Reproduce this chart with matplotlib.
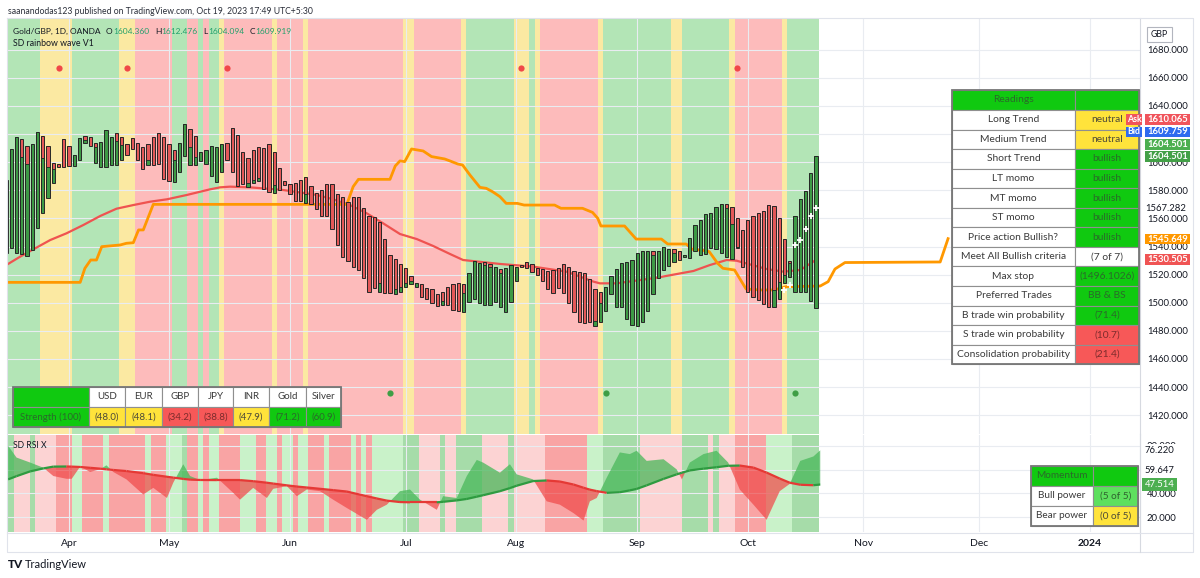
import numpy as np
import pandas as pd
import matplotlib
matplotlib.use("Agg")
from matplotlib import pyplot as plt
from matplotlib.collections import LineCollection
from matplotlib.patches import Rectangle

plt.rcParams['font.family'] = ['Lato', 'DejaVu Sans']

# trading calendar (daily OANDA bars, Good Friday missing)
first_day = "2023-03-16"
skipped_days = ["2023-04-07"]

# header
author_line = "saanandodas123 published on TradingView.com, Oct 19, 2023 17:49 UTC+5:30"
symbol_line = "Gold/GBP, 1D, OANDA"
ohlc_keys = ["O", "H", "L", "C"]
ohlc_vals = [1604.360, 1612.476, 1604.094, 1609.919]
study_main = "SD rainbow wave V1"
study_rsi = "SD RSI X"

# rainbow wave bars: green from lo up to split, red from split up to hi
bar_hi = [1587.3, 1609.2, 1618.2, 1616.3, 1611.5, 1612.7, 1621.7, 1618.7, 1611.5, 1599.7,
          1598.7, 1616.3, 1611.5, 1604.9, 1617.0, 1618.7, 1617.7, 1613.9, 1614.6, 1622.9,
          1618.2, 1620.6, 1617.7, 1613.0, 1617.5, 1613.9, 1611.1, 1612.7, 1618.2, 1620.6,
          1617.7, 1613.0, 1608.7, 1613.9, 1627.2, 1623.9, 1618.7, 1607.0, 1608.7, 1611.5,
          1610.6, 1613.0, 1613.4, 1624.1, 1619.1, 1607.3, 1603.2, 1608.5, 1610.6, 1609.9,
          1613.0, 1607.3, 1596.1, 1586.4, 1584.3, 1585.4, 1587.1, 1589.2, 1583.3, 1577.9,
          1580.2, 1584.3, 1584.3, 1577.6, 1575.5, 1571.4, 1575.5, 1575.0, 1567.2, 1562.0,
          1561.2, 1557.2, 1545.6, 1534.2, 1531.1, 1527.3, 1524.5, 1519.3, 1514.3, 1513.1,
          1510.2, 1509.5, 1506.2, 1507.9, 1510.9, 1513.3, 1514.3, 1513.3, 1521.4, 1529.9,
          1528.5, 1529.2, 1527.6, 1525.2, 1524.0, 1524.5, 1527.1, 1525.7, 1527.1, 1529.0,
          1527.6, 1525.0, 1523.8, 1522.6, 1523.3, 1524.7, 1527.3, 1525.2, 1522.8, 1522.1,
          1521.4, 1516.6, 1510.0, 1507.4, 1511.4, 1519.3, 1523.8, 1528.5, 1529.0, 1530.4,
          1535.6, 1537.1, 1537.1, 1536.6, 1536.6, 1539.4, 1538.0, 1538.5, 1536.8, 1533.7,
          1546.1, 1555.3, 1558.9, 1562.9, 1563.6, 1568.4, 1570.0, 1570.0, 1568.4, 1560.5,
          1551.8, 1558.9, 1561.7, 1564.1, 1565.0, 1569.8, 1568.6, 1560.5, 1545.1, 1529.5,
          1561.7, 1573.6, 1579.8, 1592.6, 1604.4]
bar_lo = [1535.1, 1538.7, 1535.6, 1534.4, 1533.3, 1537.5, 1552.9, 1564.1, 1574.3, 1585.0,
          1596.4, 1596.8, 1597.3, 1597.3, 1601.6, 1613.4, 1611.5, 1599.7, 1596.4, 1596.8,
          1598.0, 1598.0, 1601.6, 1604.9, 1609.2, 1601.6, 1594.9, 1598.0, 1598.0, 1598.7,
          1587.8, 1586.9, 1586.2, 1593.3, 1604.4, 1597.8, 1597.8, 1601.1, 1598.7, 1590.2,
          1586.2, 1593.3, 1601.6, 1593.3, 1583.1, 1584.3, 1582.6, 1585.0, 1586.9, 1580.7,
          1579.0, 1577.8, 1580.2, 1583.5, 1577.4, 1572.6, 1572.6, 1571.2, 1570.3, 1566.7,
          1561.7, 1561.7, 1552.2, 1541.1, 1532.3, 1529.9, 1525.7, 1523.3, 1517.4, 1507.9,
          1510.2, 1507.9, 1507.1, 1507.1, 1506.2, 1507.6, 1510.9, 1513.1, 1511.4, 1504.3,
          1502.4, 1500.0, 1497.7, 1498.1, 1498.4, 1494.8, 1494.4, 1493.2, 1500.7, 1502.4,
          1500.0, 1498.1, 1498.1, 1500.5, 1496.7, 1493.2, 1500.5, 1515.7, 1525.2, 1524.5,
          1522.1, 1519.5, 1515.2, 1509.8, 1506.7, 1510.2, 1506.7, 1500.0, 1493.2, 1486.0,
          1485.3, 1486.0, 1483.7, 1486.0, 1494.4, 1506.2, 1496.7, 1496.7, 1488.2, 1484.1,
          1483.7, 1486.0, 1494.4, 1506.0, 1517.4, 1523.3, 1526.1, 1528.7, 1530.4, 1532.3,
          1531.6, 1536.8, 1534.0, 1534.7, 1538.7, 1538.5, 1535.1, 1532.8, 1531.3, 1538.7,
          1525.7, 1507.9, 1504.3, 1501.9, 1498.8, 1496.7, 1496.7, 1502.6, 1513.8, 1518.5,
          1507.4, 1507.4, 1507.4, 1501.5, 1496.0]
bar_split = [1587.3, 1609.2, 1618.2, 1604.0, 1598.7, 1612.7, 1621.7, 1602.8, 1596.8, 1594.9,
             1596.4, 1596.8, 1597.3, 1604.9, 1617.0, 1615.8, 1611.5, 1611.1, 1614.6, 1622.9,
             1618.2, 1615.3, 1612.3, 1604.9, 1609.2, 1601.6, 1594.9, 1601.6, 1598.0, 1598.7,
             1587.8, 1586.9, 1601.6, 1613.9, 1627.2, 1610.6, 1604.0, 1607.0, 1608.7, 1611.5,
             1610.6, 1613.0, 1601.6, 1593.3, 1583.1, 1584.3, 1585.4, 1587.3, 1588.5, 1580.7,
             1579.0, 1583.8, 1580.2, 1583.5, 1577.4, 1572.6, 1572.6, 1577.4, 1570.3, 1566.7,
             1561.7, 1561.7, 1552.2, 1541.1, 1532.3, 1529.9, 1525.7, 1523.3, 1517.4, 1507.9,
             1510.2, 1513.8, 1507.1, 1507.1, 1509.5, 1510.9, 1513.8, 1515.7, 1514.3, 1504.3,
             1502.4, 1500.0, 1497.7, 1501.5, 1498.4, 1494.8, 1494.4, 1506.7, 1521.4, 1529.9,
             1528.5, 1526.8, 1525.7, 1525.2, 1520.9, 1524.5, 1527.1, 1525.7, 1525.2, 1524.5,
             1522.1, 1519.5, 1515.2, 1509.8, 1506.7, 1510.2, 1506.7, 1500.0, 1493.2, 1486.0,
             1485.3, 1486.0, 1487.2, 1499.6, 1511.4, 1519.3, 1523.8, 1528.5, 1529.0, 1530.4,
             1535.6, 1537.1, 1537.1, 1533.7, 1536.6, 1539.4, 1538.0, 1535.1, 1530.4, 1533.7,
             1546.1, 1555.3, 1558.9, 1562.9, 1563.6, 1568.4, 1570.0, 1567.2, 1555.8, 1539.9,
             1525.7, 1507.9, 1504.3, 1501.9, 1498.8, 1496.7, 1509.1, 1515.0, 1519.7, 1528.0,
             1561.7, 1573.6, 1579.8, 1592.6, 1604.4]

# background state per run of bars (g bull, y neutral, r bear)
wave_bg = ["g", "y", "g", "y", "r", "g", "r", "g", "r", "g", "y", "r", "y", "r", "y", "r",
           "y", "r", "y", "g", "y", "g", "y", "r", "y", "g", "y", "g", "y", "r", "y", "g"]
wave_bg_len = [7, 6, 9, 3, 7, 3, 2, 1, 1, 2, 1, 9, 1, 5, 1, 18,
               2, 9, 1, 9, 3, 1, 1, 11, 1, 13, 2, 9, 1, 9, 1, 6]

red_idx = [0.4, 2.7, 5.2, 8.4, 11.5, 14.7, 17.9, 21.0, 24.2, 27.4, 30.6, 34.4, 38.8, 40.7,
           42.6, 46.4, 52.7, 59.1, 62.2, 65.4, 68.6, 71.7, 74.9, 78.1, 81.2, 84.4, 86.9,
           93.9, 100.2, 106.6, 111.7, 112.9, 116.1, 123.7, 130.7, 133.8, 137.0, 138.9,
           144.6, 147.8, 151.0, 154.0]
red_val = [1527.6, 1532.8, 1538.0, 1544.6, 1549.4, 1555.3, 1561.7, 1566.9, 1569.5, 1571.9,
           1573.6, 1576.7, 1580.7, 1582.1, 1582.6, 1582.1, 1580.2, 1576.7, 1573.6, 1569.5,
           1563.6, 1556.5, 1548.9, 1545.3, 1540.4, 1534.7, 1530.4, 1527.6, 1525.7, 1522.1,
           1515.0, 1513.8, 1513.8, 1517.8, 1522.6, 1526.8, 1530.4, 1529.9, 1524.0, 1522.1,
           1523.3, 1530.5]

orange_idx = [0.4, 14.1, 15.0, 16.1, 17.2, 18.2, 21.7, 22.9, 24.2, 25.2,
              26.1, 28.0, 64.8, 66.0, 67.0, 73.0, 74.0, 74.9, 75.8, 77.1,
              79.3, 80.9, 83.4, 84.4, 85.9, 86.8, 88.2, 90.1, 91.3, 92.5,
              93.9, 95.1, 97.2, 98.5, 104.3, 105.5, 109.6, 111.5, 112.5, 113.1,
              117.6, 119.8, 124.6, 125.8, 129.3, 130.5, 133.1, 133.7, 135.3, 136.3,
              138.5, 140.7, 143.2, 146.0, 148.3, 154.8, 156.3, 157.6, 159.5, 177.6, 179.1]
orange_val = [1514.5, 1514.5, 1524.5, 1530.4, 1530.4, 1539.9, 1541.1, 1542.3, 1542.7, 1551.8,
              1551.8, 1570.0, 1570.0, 1582.6, 1587.8, 1587.8, 1597.3, 1600.9, 1600.4, 1609.4,
              1608.0, 1604.0, 1602.3, 1600.9, 1598.7, 1598.0, 1590.9, 1582.1, 1581.4, 1579.0,
              1575.5, 1570.7, 1570.7, 1569.5, 1569.5, 1567.2, 1567.2, 1564.3, 1560.1, 1554.6,
              1554.6, 1545.3, 1545.3, 1541.8, 1541.8, 1538.0, 1537.0, 1536.3, 1528.0, 1524.5,
              1523.3, 1509.8, 1509.1, 1509.1, 1511.4, 1511.9, 1515.0, 1524.0, 1528.6, 1529.0, 1545.6]

sell_dot_idx = [10, 23, 42, 98, 139]
sell_dot_val = [1667, 1667, 1667, 1667, 1667]
buy_dot_idx = [73, 114, 150]
buy_dot_val = [1435.7, 1435.7, 1435.7]
cross_idx = [148, 149, 150, 151, 152, 153, 154]
cross_val = [1509.0, 1512.6, 1541.1, 1544.6, 1552.2, 1561.7, 1567.6]

# SD RSI X
rsi_idx = [0.4, 2.0, 4.6, 7.1, 9.0, 11.5, 12.5, 14.1, 16.0, 17.9,
           19.1, 20.4, 22.9, 26.1, 28.0, 30.6, 31.8, 33.7, 35.0, 36.9,
           40.1, 43.2, 44.5, 47.0, 49.6, 50.8, 53.4, 55.3, 57.2, 59.7,
           62.2, 64.8, 68.6, 70.5, 72.4, 74.9, 76.8, 78.7, 81.9, 83.1,
           85.7, 87.6, 89.5, 90.7, 93.9, 95.8, 97.1, 100.2, 102.8, 105.3,
           107.9, 109.8, 111.0, 112.3, 114.2, 116.7, 118.6, 119.9, 121.8, 125.0,
           127.5, 128.5, 130.0, 132.6, 135.1, 137.3, 139.5, 142.1, 144.6, 147.1,
           149.0, 151.0, 153.5, 154.8]
rsi_fast = [80.0, 70.1, 65.9, 61.6, 54.6, 52.3, 52.3, 62.5, 58.0, 60.3,
            63.6, 58.0, 51.8, 39.1, 44.7, 36.2, 49.0, 64.5, 54.6, 51.2,
            53.2, 40.5, 34.8, 44.7, 36.2, 43.9, 46.1, 37.7, 43.3, 41.9,
            34.8, 27.8, 17.9, 26.3, 30.6, 41.9, 43.3, 34.8, 26.3, 37.7,
            36.2, 54.6, 68.1, 65.9, 57.4, 64.5, 56.0, 51.8, 33.4, 30.6,
            23.5, 17.3, 33.4, 36.2, 53.2, 74.4, 73.0, 75.8, 67.3, 68.7,
            60.2, 51.8, 65.9, 73.0, 75.8, 65.9, 43.3, 30.6, 17.9, 41.9,
            48.0, 67.3, 71.0, 76.2]
rsi_slow = [51.8, 54.5, 58.5, 61.0, 62.5, 62.6, 62.5, 62.2, 61.5, 60.8,
            60.2, 59.7, 58.8, 57.0, 55.6, 54.0, 53.3, 52.2, 51.6, 51.3,
            51.2, 51.2, 51.2, 50.3, 49.0, 48.3, 46.8, 45.8, 45.0, 43.9,
            42.8, 41.6, 37.7, 35.8, 34.0, 32.8, 32.6, 32.6, 32.6, 33.0,
            34.2, 35.4, 37.3, 38.5, 41.9, 44.5, 46.5, 50.4, 50.9, 50.0,
            47.5, 44.8, 43.2, 42.0, 40.5, 41.0, 42.6, 43.8, 46.8, 52.2,
            56.0, 57.4, 59.3, 60.8, 62.0, 63.2, 63.4, 61.7, 57.5, 52.5,
            49.0, 47.3, 46.9, 47.5]
rsi_bg = ["G", "p", "G", "p", "R", "l", "R", "l", "R", "l", "R", "l", "G", "R", "l", "R",
          "l", "R", "l", "R", "l", "R", "l", "R", "l", "R", "l", "R", "l", "R", "l", "R",
          "l", "G", "p", "G", "p", "G", "p", "G", "p", "R", "l", "G", "p", "G", "p", "G",
          "p", "R", "l", "G"]
rsi_bg_len = [2, 3, 1, 4, 3, 2, 4, 1, 7, 1, 3, 3, 1, 2, 1, 1,
              2, 4, 3, 2, 2, 1, 2, 1, 2, 3, 1, 4, 1, 1, 1, 1,
              6, 3, 4, 1, 2, 5, 5, 1, 6, 8, 3, 7, 8, 5, 1, 1,
              3, 6, 5, 5]

# tables
readings_label = ["Long Trend", "Medium Trend", "Short Trend", "LT momo", "MT momo", "ST momo",
                  "Price action Bullish?", "Meet All Bullish criteria", "Max stop",
                  "Preferred Trades", "B trade win probability", "S trade win probability",
                  "Consolidation probability"]
readings_value = ["neutral", "neutral", "bullish", "bullish", "bullish", "bullish", "bullish",
                  "(7 of 7)", "(1496.1026)", "BB & BS", "(71.4)", "(10.7)", "(21.4)"]
readings_state = ["y", "y", "g", "g", "g", "g", "g", "w", "g", "g", "g", "r", "r"]

strength_ccy = ["USD", "EUR", "GBP", "JPY", "INR", "Gold", "Silver"]
strength_val = [48.0, 48.1, 34.2, 38.8, 47.9, 71.2, 60.9]
strength_state = ["y", "y", "r", "r", "y", "g", "g"]

momentum_label = ["Bull power", "Bear power"]
momentum_value = ["(5 of 5)", "(0 of 5)"]
momentum_state = ["lg", "y"]

# price scale tags (text, colour, pixel row)
tag_text = ["1610.065", "1609.759", "1604.501", "1604.501", "1545.649", "1530.505"]
tag_color = ["#f0545c", "#2e6bef", "#4caf50", "#43a047", "#ff9800", "#f05454"]
tag_row = [119.3, 132.0, 144.7, 156.4, 239.2, 259.7]
plain_tag = 1567.282
rsi_tags = [76.220, 59.647]
rsi_last = 47.514

# ---------------------------------------------------------------
W, H = 1200, 578
bar_px, bar0_px = 5.26, 6.0


def frame(x0, y0, x1, y1):
    return [x0 / W, 1 - y1 / H, (x1 - x0) / W, (y1 - y0) / H]


def paint_runs(axis, states, lengths, palette):
    start = 0
    for s, n in zip(states, lengths):
        axis.axvspan(start - 0.5, start + n - 0.5, color=palette[s], lw=0, zorder=0)
        start += n


fig = plt.figure(figsize=(12, 5.78), dpi=100)
fig.patch.set_facecolor("white")

days = pd.bdate_range(first_day, periods=230)
days = days[~days.isin(pd.to_datetime(skipped_days))]
xmax = (1140 - bar0_px) / bar_px
month_pos = [i for i in range(1, len(days)) if days[i].month != days[i - 1].month and i < xmax]
month_lab = [days[i].strftime("%b") if days[i].month != 1 else str(days[i].year) for i in month_pos]

ax = fig.add_axes(frame(8, 18, 1140, 434))
ax2 = fig.add_axes(frame(8, 435, 1140, 532))
for a in (ax, ax2):
    a.set_xlim((8 - bar0_px) / bar_px, xmax)
    for s in a.spines.values():
        s.set_visible(False)
    a.spines["right"].set_visible(True)
    a.spines["right"].set_color("#d6d9e0")
    a.yaxis.tick_right()
    a.set_xticks(month_pos)
    a.grid(True, color="#e9ecf1", lw=0.8)
    a.tick_params(axis="y", length=0, pad=5, labelsize=6.8, labelcolor="#131722")
ax.set_ylim(1406.6, 1702.6)
ax2.set_ylim(7.7, 89.0)
price_ticks = np.arange(1420, 1681, 20)
ax.set_yticks(price_ticks)
# 1620 sits fully under the Ask/Bid tags on the reference scale
ax.set_yticklabels(["" if v == 1620 else "%.3f" % v for v in price_ticks])
ax.tick_params(axis="x", length=0, labelbottom=False)
ax2.set_yticks([20, 40, 60, 80])
ax2.set_yticklabels(["%.3f" % v for v in [20, 40, 60, 80]])
ax2.set_xticks(month_pos, month_lab)
ax2.tick_params(axis="x", length=0, pad=5, labelsize=7.5, labelcolor="#131722")
for t in ax2.get_xticklabels():
    if t.get_text().isdigit():
        t.set_fontweight("bold")

# main pane
paint_runs(ax, wave_bg, wave_bg_len, {"g": "#b3e5b6", "y": "#fbe9a2", "r": "#fdbbbb"})
ax.plot(red_idx, red_val, color="#ef5350", lw=1.6, zorder=3)
ax.plot(orange_idx, orange_val, color="#ff9800", lw=2.0, zorder=3)

idx = np.arange(len(bar_hi))
hi, lo, sp = np.array(bar_hi), np.array(bar_lo), np.array(bar_split)
ax.bar(idx, sp - lo, bottom=lo, width=0.62, color="#3d9a45", lw=0, zorder=4)
ax.bar(idx, hi - sp, bottom=sp, width=0.62, color="#e35858", lw=0, zorder=4)
ax.bar(idx, hi - lo, bottom=lo, width=0.62, fill=False, edgecolor="#262626", lw=0.7, zorder=5)
two = (sp > lo) & (sp < hi)
ax.hlines(sp[two], idx[two] - 0.31, idx[two] + 0.31, color="#262626", lw=0.6, zorder=5)

ax.scatter(sell_dot_idx, sell_dot_val, s=20, color="#f04848", lw=0, zorder=6)
ax.scatter(buy_dot_idx, buy_dot_val, s=20, color="#3f9e45", lw=0, zorder=6)
ax.scatter(cross_idx, cross_val, marker="+", s=18, color="white", linewidths=1.3, zorder=6)

# RSI pane
paint_runs(ax2, rsi_bg, rsi_bg_len, {"G": "#a6dca9", "l": "#c9f2c9", "p": "#fcd3d3", "R": "#f9a4a4"})
xi, f, s = np.array(rsi_idx), np.array(rsi_fast), np.array(rsi_slow)
ax2.fill_between(xi, f, s, where=f >= s, interpolate=True, color="#49b85a", alpha=0.75, lw=0, zorder=2)
ax2.fill_between(xi, f, s, where=f < s, interpolate=True, color="#f04a4a", alpha=0.72, lw=0, zorder=2)
pts = np.column_stack([xi, s])
segs = np.stack([pts[:-1], pts[1:]], axis=1)
cols = ["#2e9b40" if b > a else "#e53935" for a, b in zip(s[:-1], s[1:])]
ax2.add_collection(LineCollection(segs, colors=cols, linewidths=1.6, zorder=3))

tr2 = ax2.get_yaxis_transform()
for v in rsi_tags:
    ax2.text(1.0042, v, "%.3f" % v, transform=tr2, fontsize=6.8, color="#131722", va="center",
             clip_on=False, zorder=10, bbox=dict(boxstyle="square,pad=0.15", fc="white", ec="none"))
ax2.text(1.0042, rsi_last, "%.3f" % rsi_last, transform=tr2, fontsize=6.8, color="white", va="center",
         clip_on=False, zorder=11, bbox=dict(boxstyle="square,pad=0.25", fc="#4caf50", ec="none"))
tr1 = ax.get_yaxis_transform()
ax.text(1.0042, plain_tag, "%.3f" % plain_tag, transform=tr1, fontsize=6.8, color="#131722", va="center",
        clip_on=False, zorder=10, bbox=dict(boxstyle="square,pad=0.15", fc="white", ec="none"))

# overlay in pixel units
ov = fig.add_axes([0, 0, 1, 1], zorder=10)
ov.set_xlim(0, W)
ov.set_ylim(H, 0)
ov.axis("off")

ov.plot([7, 1193, 1193, 7, 7], [18, 18, 552, 552, 18], color="#e0e3eb", lw=0.8)
ov.plot([1140, 1140], [434, 552], color="#d6d9e0", lw=0.8)
ov.plot([7, 1193], [532.5, 532.5], color="#e0e3eb", lw=0.8)

ov.text(8, 11, author_line, fontsize=6.2, color="#2a2e39", va="center")
t = ov.text(13, 31, symbol_line, fontsize=6.0, color="#131722", va="center")
for k, v in zip(ohlc_keys, ohlc_vals):
    t = ov.annotate(k, xy=(1, 0.5), xycoords=t, xytext=(4, 0), textcoords="offset points",
                    fontsize=6.0, color="#131722", va="center")
    t = ov.annotate("%.3f" % v, xy=(1, 0.5), xycoords=t, xytext=(0.3, 0), textcoords="offset points",
                    fontsize=6.0, color="#22a06b", va="center")
ov.text(13, 44, study_main, fontsize=6.3, color="#131722", va="center")
ov.text(13, 445, study_rsi, fontsize=6.2, color="#131722", va="center")
ov.text(8, 565, "TV", fontsize=8.5, color="#131722", va="center", fontweight="black")
ov.text(25, 565, "TradingView", fontsize=8, color="#131722", va="center")

ov.add_patch(Rectangle((1147, 27), 25, 15, fc="white", ec="#b2b5be", lw=0.8))
ov.text(1159.5, 34.5, "GBP", fontsize=6.3, color="#131722", ha="center", va="center")

cell_fc = {"g": "#10c910", "y": "#ffe33b", "r": "#f75858", "w": "white", "lg": "#5ee05e"}
cell_tc = {"g": "#2a6a2a", "y": "#4d4a38", "r": "#7c2c2c", "w": "#3a3a3a", "lg": "#2f622f"}


def cell(x0, y0, x1, y1, state, text, fs):
    ov.add_patch(Rectangle((x0, y0), x1 - x0, y1 - y0, fc=cell_fc[state], ec="#8f8f8f", lw=0.8))
    if text:
        ov.text((x0 + x1) / 2, (y0 + y1) / 2, text, ha="center", va="center", fontsize=fs,
                color=cell_tc[state])


# Readings table
rx = [952, 1075, 1139]
ry = [90, 110] + [110 + (364.3 - 110) / 13 * (k + 1) for k in range(13)]
cell(rx[0], ry[0], rx[1], ry[1], "g", "Readings", 7.4)
cell(rx[1], ry[0], rx[2], ry[1], "g", "", 7.4)
for k, (lab, val, st) in enumerate(zip(readings_label, readings_value, readings_state)):
    cell(rx[0], ry[k + 1], rx[1], ry[k + 2], "w", lab, 7.4)
    cell(rx[1], ry[k + 1], rx[2], ry[k + 2], st, val, 7.4)
ov.add_patch(Rectangle((rx[0], ry[0]), rx[2] - rx[0], ry[-1] - ry[0], fill=False, ec="#777777", lw=1.3))

# Strength table
sx = [13, 89, 125, 162, 198, 233, 269, 306, 341]
sy = [387, 406.5, 427]
cell(sx[0], sy[0], sx[1], sy[1], "g", "", 7)
cell(sx[0], sy[1], sx[1], sy[2], "g", "Strength (100)", 7)
for k, (c, v, st) in enumerate(zip(strength_ccy, strength_val, strength_state)):
    cell(sx[k + 1], sy[0], sx[k + 2], sy[1], "w", c, 7)
    cell(sx[k + 1], sy[1], sx[k + 2], sy[2], st, "(%.1f)" % v, 7)
ov.add_patch(Rectangle((sx[0], sy[0]), sx[-1] - sx[0], sy[-1] - sy[0], fill=False, ec="#777777", lw=1.3))

# Momentum table
mx = [1031, 1093, 1138]
my = [466, 486, 506, 526]
cell(mx[0], my[0], mx[1], my[1], "g", "Momentum", 7.2)
cell(mx[1], my[0], mx[2], my[1], "g", "", 7.2)
for k, (lab, val, st) in enumerate(zip(momentum_label, momentum_value, momentum_state)):
    cell(mx[0], my[k + 1], mx[1], my[k + 2], "w", lab, 7.2)
    cell(mx[1], my[k + 1], mx[2], my[k + 2], st, val, 7.2)
ov.add_patch(Rectangle((mx[0], my[0]), mx[2] - mx[0], my[-1] - my[0], fill=False, ec="#777777", lw=1.3))

# price scale tags
for txt, c, yy in zip(tag_text, tag_color, tag_row):
    ov.add_patch(Rectangle((1145, yy - 5.3), 45, 10.6, fc=c, ec="none"))
    ov.text(1167.5, yy, txt, fontsize=6.8, color="white", ha="center", va="center", fontweight="bold")
for lab, c, yy in zip(["Ask", "Bid"], tag_color[:2], tag_row[:2]):
    ov.add_patch(Rectangle((1126, yy - 5.3), 16, 10.6, fc=c, ec="none"))
    ov.text(1134, yy, lab, fontsize=6.3, color="white", ha="center", va="center", fontweight="bold")

fig.savefig("out.png", dpi=100)
